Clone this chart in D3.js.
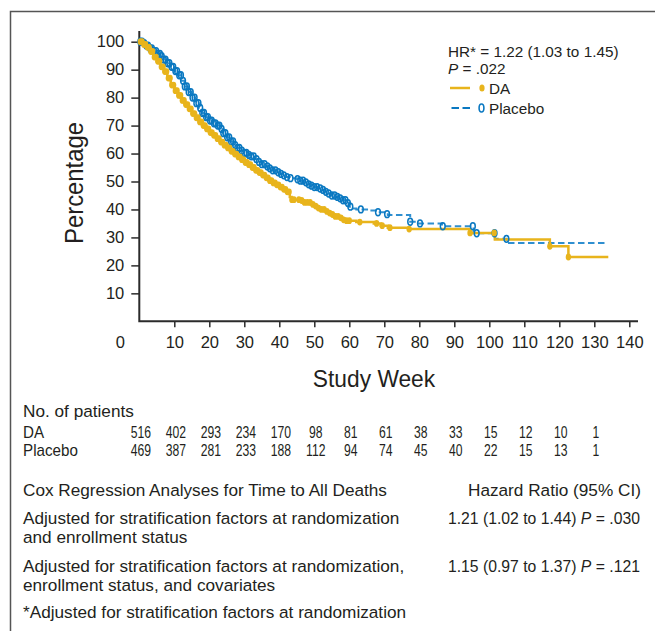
<!DOCTYPE html>
<html>
<head>
<meta charset="utf-8">
<script src="https://cdn.jsdelivr.net/npm/d3@7"></script>
<style>
    body { margin: 0; background: #fff; }
    svg { display: block; }
</style>
</head>
<body>
<svg id="chart" width="655" height="631"></svg>
<script>
// Kaplan-Meier steps: [week, percentage], the last point is where the curve ends
var daSteps = [[0,100],[1,99],[2,98],[3,96.5],[4,94.5],[5,93],[6,91],[7,89.3],[8,87],[9,84.5],[10,82.5],
    [11,80.8],[12,79],[13,77.5],[14,76],[15,74.3],[16,72.8],[17,71.3],[18,70],[19,68.8],[20,67.5],
    [21,66.5],[22,65.3],[23,64.1],[24,63],[25,62],[26,60.8],[27,59.8],[28,58.8],[29,57.8],[30,56.8],
    [31,56],[32,55],[33,54],[34,53.2],[35,52.3],[36,51.3],[37,50.3],[38,49.5],[39,48.8],[40,48],
    [41,47.2],[42,46.3],[43,44.5],[43.5,43.5],[46,43.2],[47,42.5],[49,41.8],[50,41.2],[51,40.5],
    [52,40],[53,39.3],[54,38.7],[55,38.2],[56,37.5],[57,37],[58,36.3],[59,36],[62,35.5],[67,35],
    [69,34.2],[71,33.5],[77,33],[94.5,31.6],[101.6,29.3],[117.3,26.8],[122.6,23],[134,23]];

var placeboSteps = [[0,100],[1,99.5],[2,98.6],[3,97.6],[4,96.6],[5,95.6],[6,94.8],[7,93.6],[8,92.3],
    [9,91],[10,89.5],[11,88],[12,86],[13,84],[14,82],[15,80],[16,78],[17,76.3],[18,74.5],[19,73],
    [20,71.8],[21,70.8],[22,70],[23,68.8],[24,67.3],[25,65.8],[26,64.3],[27,63],[28,62],[29,61],
    [30,60.2],[31,59.5],[32,59],[33,58],[34,57],[35,56.2],[36,55.4],[37,54.7],[38,54],[39,53.3],
    [40,52.7],[41,52.2],[42,51.6],[43,51.2],[45,50.8],[46,50.3],[47,49.7],[48,49],[49,48.5],
    [50,48],[51,47.5],[52,47],[53,46.3],[54,45.7],[55,45],[56,44.5],[57,44],[58,43.3],[59,42.3],
    [60,41],[61,40.3],[62,40],[66,39.6],[68,39],[70,38.3],[71,38],[77.4,35.6],[79.5,35],[86.5,34],
    [95.5,31.5],[101.6,29.5],[105,28],[133.5,28]];

// Censored observations (weeks)
var daCensored = [0.3,0.8,1.3,1.8,2.3,2.8,3.3,3.8,4.3,4.8,5.3,5.8,6.3,6.8,7.3,7.8,8.3,8.8,9.3,9.8,
    10.3,10.8,11.3,11.8,12.3,12.8,13.3,13.8,14.3,14.8,15.3,15.8,16.3,16.8,17.3,17.8,18.3,18.8,19.3,
    19.8,20.3,20.8,21.3,21.8,22.3,22.8,23.3,23.8,24.3,24.8,25.3,25.8,26.3,26.8,27.3,27.8,28.3,28.8,
    29.3,29.8,30.3,30.8,31.3,31.8,32.3,32.8,33.3,33.8,34.3,34.8,35.3,35.8,36.3,36.8,37.3,37.8,38.3,
    38.8,39.3,39.8,40.3,40.8,41.3,41.8,42.3,42.8,43.6,44.2,45.6,46.4,47.2,48,48.8,49.6,50.4,51.2,
    52,52.8,53.6,54.4,55.2,56,56.8,57.6,58.4,59.2,60,63,67.8,69.4,71.6,77.1,94.5,101.4,117.3,122.6];

var placeboCensored = [0.3,0.8,1.4,2,2.5,3.1,3.6,4.2,4.8,5.3,5.9,6.4,7,7.5,8.1,8.6,9.2,9.7,10.3,
    10.8,11.4,11.9,12.5,13,13.6,14.1,14.7,15.2,15.8,16.3,16.9,17.4,18,18.5,19.1,19.6,20.2,20.7,21.3,
    21.8,22.4,22.9,23.5,24,24.6,25.1,25.7,26.2,26.8,27.4,28,28.6,29.3,30,30.6,31.3,32,32.7,33.5,
    34.2,35,35.8,36.6,37.3,38.1,38.9,39.7,40.5,41.3,42.2,43.2,45.2,46,46.8,47.6,48.4,49.2,50,50.8,
    51.7,52.5,53.3,54.1,55,55.8,56.6,57.4,58.2,58.9,59.6,60.3,63.3,68.2,70.8,77.4,80.2,86.7,95.3,
    96.4,101.5,104.9];

var weekTicks = [10, 20, 30, 40, 50, 60, 70, 80, 90, 100, 110, 120, 130, 140];
var percentTicks = [10, 20, 30, 40, 50, 60, 70, 80, 90, 100];

var riskWeeks = [0, 10, 20, 30, 40, 50, 60, 70, 80, 90, 100, 110, 120, 130];
var daAtRisk = [516, 402, 293, 234, 170, 98, 81, 61, 38, 33, 15, 12, 10, 1];
var placeboAtRisk = [469, 387, 281, 233, 188, 112, 94, 74, 45, 40, 22, 15, 13, 1];

var legendLines = ["HR* = 1.22 (1.03 to 1.45)", ".022"];
var coxRows = [
    {label: ["Adjusted for stratification factors at randomization", "and enrollment status"], hr: "1.21 (1.02 to 1.44) ", p: ".030"},
    {label: ["Adjusted for stratification factors at randomization,", "enrollment status, and covariates"], hr: "1.15 (0.97 to 1.37) ", p: ".121"}
];

var config = {
    gold: "#e8b41c",
    blue: "#0a78c1",
    blueLine: "#2f8fd0",
    text: "#231f20",
    axis: "#2b2b2b",
    font: "'Liberation Sans', Arial, sans-serif"
};

var svg = d3.select("#chart");

var x = d3.scaleLinear().domain([0, 140]).range([139.3, 629.3]);
var y = d3.scaleLinear().domain([0, 100]).range([321.3, 41.7]);

/**
 * Survival value of a step curve at a given week
 */
function survivalAt(steps, t) {
    var i = d3.bisector(function (d) { return d[0]; }).right(steps, t) - 1;
    return steps[Math.max(0, i)][1];
}

/**
 * Appends a horizontally squeezed text (the original uses a condensed face)
 */
function squeezedText(parent, px, py, squeeze) {
    return parent.append("text")
        .attr("transform", "translate(" + px + "," + py + ") scale(" + squeeze + ",1)");
}

// Frame round the figure
svg.append("path")
    .attr("d", "M10.5,631 V11.5 H655")
    .attr("fill", "none")
    .attr("stroke", "#555")
    .attr("stroke-width", 1.5);

// Axes
var yAxis = svg.append("g")
    .attr("transform", "translate(" + x(0) + ",0)")
    .call(d3.axisLeft(y).tickValues(percentTicks).tickSize(8).tickPadding(7).tickSizeOuter(0));

var xAxis = svg.append("g")
    .attr("transform", "translate(0," + y(0) + ")")
    .call(d3.axisBottom(x).tickValues(weekTicks).tickSize(6).tickPadding(9).tickSizeOuter(0));

[yAxis, xAxis].forEach(function (g) {
    g.select(".domain").remove();
    g.selectAll(".tick line").attr("stroke", config.axis).attr("stroke-width", 1.5);
    g.selectAll(".tick text")
        .attr("fill", config.text)
        .style("font-family", config.font)
        .style("font-size", "16.5px");
});

svg.append("path")
    .attr("d", "M" + x(0) + ",31 V" + y(0) + " H638")
    .attr("fill", "none")
    .attr("stroke", config.axis)
    .attr("stroke-width", 2);

svg.append("text")
    .attr("x", x(0) - 19)
    .attr("y", 347.5)
    .attr("text-anchor", "middle")
    .attr("fill", config.text)
    .style("font-family", config.font)
    .style("font-size", "16.5px")
    .text("0");

// Axis titles
svg.append("text")
    .attr("transform", "translate(82.5,183) rotate(-90) scale(0.9,1)")
    .attr("text-anchor", "middle")
    .attr("fill", config.text)
    .style("font-family", config.font)
    .style("font-size", "26.5px")
    .text("Percentage");

svg.append("text")
    .attr("transform", "translate(374,387) scale(0.93,1)")
    .attr("text-anchor", "middle")
    .attr("fill", config.text)
    .style("font-family", config.font)
    .style("font-size", "24.5px")
    .text("Study Week");

// Curves
var line = d3.line()
    .x(function (d) { return x(d[0]); })
    .y(function (d) { return y(d[1]); })
    .curve(d3.curveStepAfter);

svg.append("path")
    .datum(placeboSteps)
    .attr("d", line)
    .attr("fill", "none")
    .attr("stroke", config.blueLine)
    .attr("stroke-width", 2)
    .attr("stroke-dasharray", "6.5,3.5");

svg.append("path")
    .datum(daSteps)
    .attr("d", line)
    .attr("fill", "none")
    .attr("stroke", config.gold)
    .attr("stroke-width", 2.5);

svg.append("g").selectAll("ellipse")
    .data(placeboCensored)
    .join("ellipse")
    .attr("cx", function (d) { return x(d); })
    .attr("cy", function (d) { return y(survivalAt(placeboSteps, d)); })
    .attr("rx", 2.4)
    .attr("ry", 3.4)
    .attr("fill", "none")
    .attr("stroke", config.blue)
    .attr("stroke-width", 1.5);

svg.append("g").selectAll("ellipse")
    .data(daCensored)
    .join("ellipse")
    .attr("cx", function (d) { return x(d); })
    .attr("cy", function (d) { return y(survivalAt(daSteps, d)); })
    .attr("rx", 2.7)
    .attr("ry", 3.4)
    .attr("fill", config.gold);

// Legend
var legend = svg.append("g")
    .style("font-family", config.font)
    .style("font-size", "15.3px")
    .attr("fill", config.text);

legend.append("text").attr("x", 448).attr("y", 57).text(legendLines[0]);
var pLine = legend.append("text").attr("x", 448).attr("y", 74);
pLine.append("tspan").style("font-style", "italic").text("P");
pLine.append("tspan").text(" = " + legendLines[1]);

legend.append("line")
    .attr("x1", 450).attr("x2", 470).attr("y1", 88).attr("y2", 88)
    .attr("stroke", config.gold).attr("stroke-width", 2.5);
legend.append("ellipse")
    .attr("cx", 482).attr("cy", 88).attr("rx", 2.6).attr("ry", 3.6)
    .attr("fill", config.gold);
legend.append("text").attr("x", 489).attr("y", 94).text("DA");

legend.append("line")
    .attr("x1", 451.5).attr("x2", 470).attr("y1", 108).attr("y2", 108)
    .attr("stroke", config.blue).attr("stroke-width", 2.2)
    .attr("stroke-dasharray", "7.5,3.5");
legend.append("ellipse")
    .attr("cx", 481.5).attr("cy", 108).attr("rx", 2.4).attr("ry", 4)
    .attr("fill", "none").attr("stroke", config.blue).attr("stroke-width", 1.6);
legend.append("text").attr("x", 489).attr("y", 113.5).text("Placebo");

// Number of patients at risk
var table = svg.append("g")
    .style("font-family", config.font)
    .style("font-size", "17.2px")
    .attr("fill", config.text);

table.append("text").attr("x", 23).attr("y", 417).text("No. of patients");

[["DA", daAtRisk, 437.5], ["Placebo", placeboAtRisk, 456]].forEach(function (row) {
    squeezedText(table, 23, row[2], 0.95)
        .style("font-size", "16px")
        .text(row[0]);
    row[1].forEach(function (d, i) {
        squeezedText(table, x(riskWeeks[i]) + 1.5, row[2], 0.76)
            .attr("text-anchor", "middle")
            .style("font-size", "16px")
            .text(d);
    });
});

// Cox regression table
table.append("text").attr("x", 23).attr("y", 496).text("Cox Regression Analyses for Time to All Deaths");
table.append("text").attr("x", 468).attr("y", 496).text("Hazard Ratio (95% CI)");

coxRows.forEach(function (row, i) {
    var base = 523.5 + i * 48;
    row.label.forEach(function (l, j) {
        table.append("text").attr("x", 23).attr("y", base + j * 19).text(l);
    });
    var hr = squeezedText(table, 448, base, 0.915);
    hr.append("tspan").text(row.hr);
    hr.append("tspan").style("font-style", "italic").text("P");
    hr.append("tspan").text(" = " + row.p);
});

table.append("text").attr("x", 23).attr("y", 617.5).text("*Adjusted for stratification factors at randomization");
</script>
</body>
</html>
